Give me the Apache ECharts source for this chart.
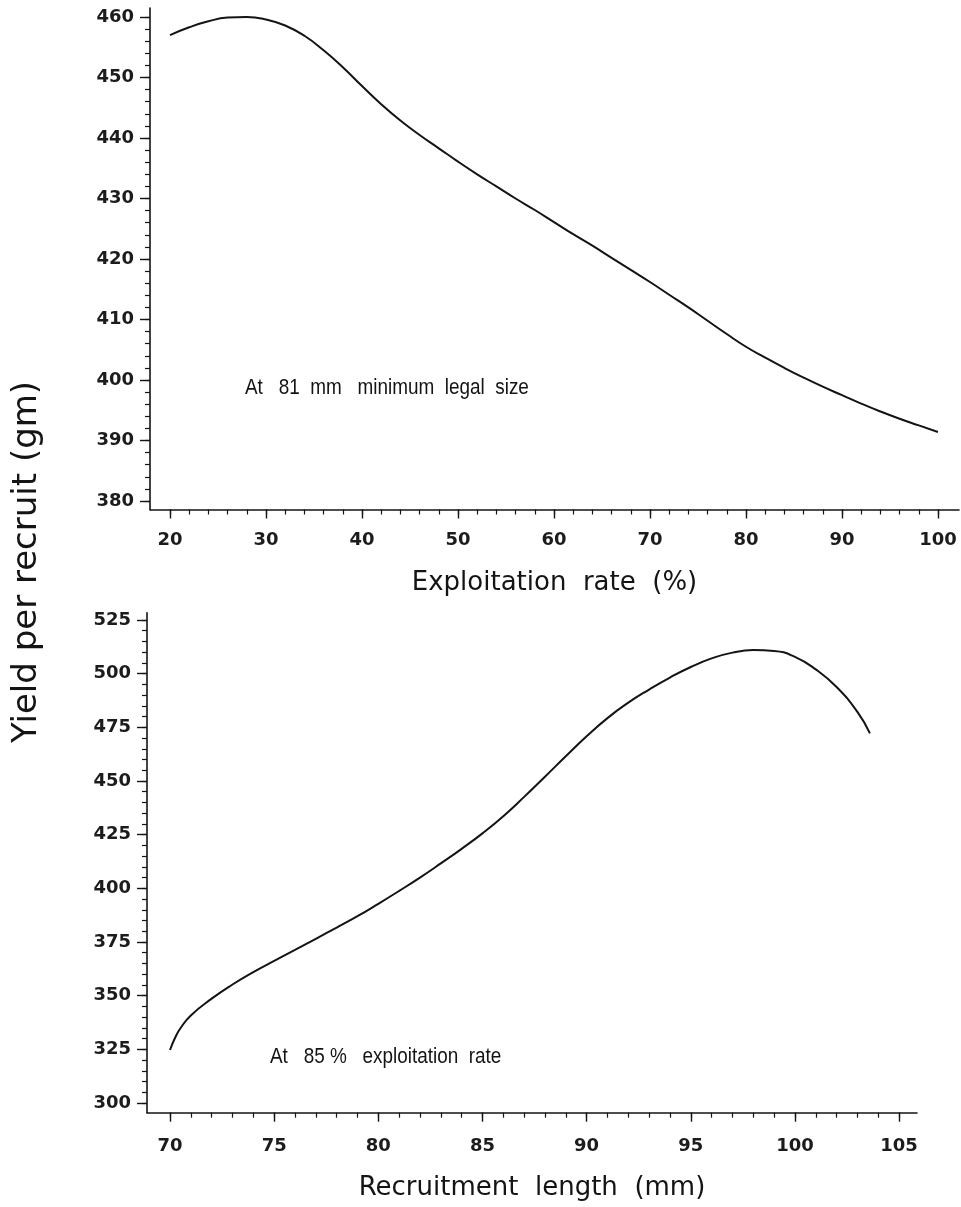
<!DOCTYPE html>
<html>
<head>
<meta charset="utf-8">
<script src="https://cdn.jsdelivr.net/npm/echarts@6/dist/echarts.min.js"></script>
<style>html,body{margin:0;padding:0;background:#fff}#c{width:961px;height:1207px}</style>
</head>
<body>
<div id="c"></div>
<script>
// ---- Data ----
const expRate = [20,22,24,26,28,30,32,34,36,38,40,42,44,46,48,50,52,54,56,58,60,62,64,66,68,70,72,74,76,78,80,82,84,86,88,90,92,94,96,98,100];
const yieldByExp = [457.0,458.3,459.3,459.9,460.0,459.6,458.6,456.9,454.5,451.7,448.6,445.6,442.9,440.5,438.3,436.1,434.0,432.0,430.0,428.1,426.1,424.1,422.2,420.2,418.2,416.2,414.1,412.0,409.8,407.6,405.5,403.7,402.0,400.4,398.9,397.5,396.1,394.8,393.6,392.5,391.4];

const recLength = [70,70.25,70.5,71,72,73,74,75,76,77,78,79,80,81,82,83,84,85,86,87,88,89,90,91,92,93,94,95,96,97,98,99,100,101,102,103,103.6];
const yieldByLen = [324.7,330.5,334.8,340.8,348.6,355.2,361.0,366.2,371.3,376.5,381.7,387.0,392.8,398.8,405.0,411.6,418.4,425.6,433.6,442.6,452.0,461.5,470.8,479.3,486.5,492.6,498.2,503.1,507.1,509.8,511.0,510.6,507.8,502.0,493.8,482.2,472.2];

const topXMajor = [20,30,40,50,60,70,80,90,100];
const topYMajor = [380,390,400,410,420,430,440,450,460];
const botXMajor = [70,75,80,85,90,95,100,105];
const botYMajor = [300,325,350,375,400,425,450,475,500,525];

function range(a, b, s) { const r = []; for (let v = a; v <= b + 1e-9; v += s) r.push(+v.toFixed(4)); return r; }
const topXMinor = range(20, 100, 2);
const topYMinor = range(380, 460, 2);
const botXMinor = range(70, 105, 1);
const botYMinor = range(300, 525, 5);

const INK = '#141414';
const labelFont = { color: '#1c1c1c', fontSize: 18, fontWeight: 'bold', fontFamily: 'DejaVu Sans' };
const nameFont = { color: INK, fontSize: 26, fontFamily: 'DejaVu Sans' };

function majorAxis(extra) {
  return Object.assign({
    type: 'value', splitLine: { show: false },
    axisLine: { show: true, onZero: false, lineStyle: { color: INK, width: 1.6 } },
    axisTick: { show: true, inside: false, length: 10, lineStyle: { color: INK, width: 1.4 } },
    axisLabel: Object.assign({ show: true }, labelFont)
  }, extra);
}
function minorAxis(extra) {
  return Object.assign({
    type: 'value', splitLine: { show: false },
    axisLine: { show: false, onZero: false },
    axisTick: { show: true, inside: false, length: 5, lineStyle: { color: INK, width: 1.2 } },
    axisLabel: { show: false }
  }, extra);
}

const chart = echarts.init(document.getElementById('c'), null, { renderer: 'canvas' });

const topXRange = { min: 17.917, max: 102.19 };
const topYRange = { min: 378.6, max: 461.49 };
const botXRange = { min: 68.896, max: 105.86 };
const botYRange = { min: 295.48, max: 528.4 };

const option = {
  backgroundColor: '#ffffff',
  animation: false,
  grid: [
    { left: 150, top: 8, width: 809, height: 501.5 },
    { left: 147, top: 612.7, width: 770, height: 500 }
  ],
  xAxis: [
    majorAxis(Object.assign({ gridIndex: 0, position: 'bottom',
      name: 'Exploitation  rate  (%)', nameLocation: 'middle', nameGap: 61, nameTextStyle: nameFont,
      axisTick: { show: true, length: 9, customValues: topXMajor, lineStyle: { color: INK, width: 1.4 } },
      axisLabel: Object.assign({ customValues: topXMajor, margin: 22 }, labelFont) }, topXRange)),
    majorAxis(Object.assign({ gridIndex: 1, position: 'bottom',
      name: 'Recruitment  length  (mm)', nameLocation: 'middle', nameGap: 63, nameTextStyle: nameFont,
      axisTick: { show: true, length: 9, customValues: botXMajor, lineStyle: { color: INK, width: 1.4 } },
      axisLabel: Object.assign({ customValues: botXMajor, margin: 25 }, labelFont) }, botXRange)),
    minorAxis(Object.assign({ gridIndex: 0, position: 'bottom',
      axisTick: { show: true, length: 5, customValues: topXMinor, lineStyle: { color: INK, width: 1.2 } } }, topXRange)),
    minorAxis(Object.assign({ gridIndex: 1, position: 'bottom',
      axisTick: { show: true, length: 5, customValues: botXMinor, lineStyle: { color: INK, width: 1.2 } } }, botXRange))
  ],
  yAxis: [
    majorAxis(Object.assign({ gridIndex: 0, position: 'left',
      axisTick: { show: true, length: 10, customValues: topYMajor, lineStyle: { color: INK, width: 1.4 } },
      axisLabel: Object.assign({ customValues: topYMajor, margin: 16 }, labelFont) }, topYRange)),
    majorAxis(Object.assign({ gridIndex: 1, position: 'left',
      axisTick: { show: true, length: 10, customValues: botYMajor, lineStyle: { color: INK, width: 1.4 } },
      axisLabel: Object.assign({ customValues: botYMajor, margin: 16 }, labelFont) }, botYRange)),
    minorAxis(Object.assign({ gridIndex: 0, position: 'left',
      axisTick: { show: true, length: 5, customValues: topYMinor, lineStyle: { color: INK, width: 1.2 } } }, topYRange)),
    minorAxis(Object.assign({ gridIndex: 1, position: 'left',
      axisTick: { show: true, length: 5, customValues: botYMinor, lineStyle: { color: INK, width: 1.2 } } }, botYRange))
  ],
  series: [
    { type: 'line', xAxisIndex: 0, yAxisIndex: 0, showSymbol: false, smooth: 0.5,
      lineStyle: { color: INK, width: 2 }, data: expRate.map((x, i) => [x, yieldByExp[i]]) },
    { type: 'line', xAxisIndex: 1, yAxisIndex: 1, showSymbol: false, smooth: 0.5,
      lineStyle: { color: INK, width: 2 }, data: recLength.map((x, i) => [x, yieldByLen[i]]) }
  ],
  graphic: [
    { type: 'text', x: 27, y: 562, rotation: Math.PI / 2,
      style: { text: 'Yield per recruit (gm)', fontSize: 34, fontFamily: 'DejaVu Sans', fill: INK, align: 'center', verticalAlign: 'middle' } },
    { type: 'text', x: 245, y: 388, scaleX: 0.86,
      style: { text: 'At   81  mm   minimum  legal  size', fontSize: 22, fontFamily: 'Liberation Sans', fill: INK, align: 'left', verticalAlign: 'middle' } },
    { type: 'text', x: 270, y: 1057, scaleX: 0.86,
      style: { text: 'At   85 %   exploitation  rate', fontSize: 22, fontFamily: 'Liberation Sans', fill: INK, align: 'left', verticalAlign: 'middle' } }
  ]
};
chart.setOption(option);
</script>
</body>
</html>
